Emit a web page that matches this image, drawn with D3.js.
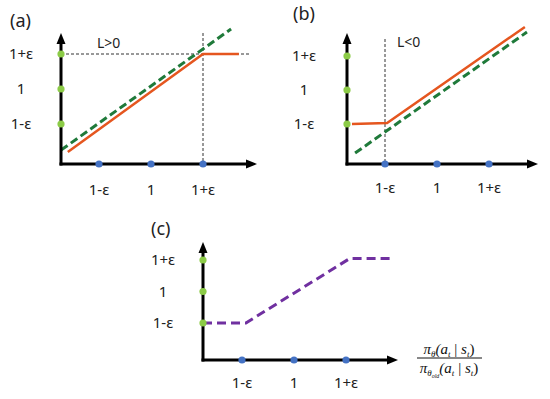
<!DOCTYPE html>
<html><head><meta charset="utf-8">
<script src="https://cdn.jsdelivr.net/npm/d3@7"></script>
<style>body{margin:0;background:#fff}svg{display:block}</style>
</head><body>
<script>
// ---- data ----
const tickValues = [0.8, 1.0, 1.2];
const tickLabels = ["1-ε", "1", "1+ε"];
const panelNames = ["(a)", "(b)", "(c)"];
const annotations = ["L>0", "L<0"];
const clipA = [[0.68, 0.64], [1.2, 1.2], [1.338, 1.2]];
const unclipA = [[0.654, 0.651], [1.308, 1.343]];
const clipB = [[0.673, 0.8], [0.808, 0.806], [1.338, 1.371]];
const unclipB = [[0.685, 0.629], [1.346, 1.341]];
const clipC = [[0.65, 0.8], [0.815, 0.8], [1.215, 1.21], [1.37, 1.21]];

// ---- layout ----
const W = 550, H = 399;
const svg = d3.select("body").append("svg").attr("width", W).attr("height", H);
const font = "'Noto Sans', 'DejaVu Sans', sans-serif";
const colOrange = "#E5561F", colGreen = "#1F7A3A", colPurple = "#7030A0";
const colDotG = "#8CCB47", colDotB = "#4472C4";

const panels = [
  {ox: 61, oy: 164, yTop: 33, xEnd: 257, xr: [99, 203], yr: [124, 54], labX: 21, labY: 195, name: [10, 27]},
  {ox: 347, oy: 164, yTop: 33, xEnd: 538, xr: [385, 489], yr: [124, 56], labX: 304, labY: 193, name: [293, 20]},
  {ox: 203, oy: 360, yTop: 242, xEnd: 398, xr: [242, 346], yr: [323, 260], labX: 163, labY: 388, name: [151, 235]}
];
panels.forEach(p => {
  p.x = d3.scaleLinear().domain([0.8, 1.2]).range(p.xr);
  p.y = d3.scaleLinear().domain([0.8, 1.2]).range(p.yr);
});

const line = p => d3.line().x(d => p.x(d[0])).y(d => p.y(d[1]));

function drawAxes(p) {
  const g = svg.append("g");
  g.append("line").attr("x1", p.ox).attr("y1", p.oy + 1.5).attr("x2", p.ox).attr("y2", p.yTop + 8)
    .attr("stroke", "#000").attr("stroke-width", 3);
  g.append("line").attr("x1", p.ox - 1.5).attr("y1", p.oy).attr("x2", p.xEnd - 8).attr("y2", p.oy)
    .attr("stroke", "#000").attr("stroke-width", 3);
  g.append("path").attr("d", `M${p.ox},${p.yTop} L${p.ox - 4.5},${p.yTop + 11} L${p.ox + 4.5},${p.yTop + 11} Z`).attr("fill", "#000");
  g.append("path").attr("d", `M${p.xEnd},${p.oy} L${p.xEnd - 11},${p.oy - 4.5} L${p.xEnd - 11},${p.oy + 4.5} Z`).attr("fill", "#000");
}
function drawTicks(p) {
  tickValues.forEach((v, i) => {
    svg.append("circle").attr("cx", p.x(v)).attr("cy", p.oy).attr("r", 3.6).attr("fill", colDotB);
    svg.append("circle").attr("cx", p.ox).attr("cy", p.y(v)).attr("r", 3.6).attr("fill", colDotG);
    svg.append("text").attr("x", p.x(v)).attr("y", p.labY).attr("text-anchor", "middle")
      .attr("font-family", font).attr("font-size", 15).attr("fill", "#222").text(tickLabels[i]);
    svg.append("text").attr("x", p.labX).attr("y", p.y(v) + 5).attr("text-anchor", "middle")
      .attr("font-family", font).attr("font-size", 15).attr("fill", "#222").text(tickLabels[i]);
  });
}
function panelName(p, t) {
  svg.append("text").attr("x", p.name[0]).attr("y", p.name[1]).attr("font-family", font)
    .attr("font-size", 18).attr("fill", "#222").text(t);
}

// ---- panel a ----
const A = panels[0];
svg.append("line").attr("x1", A.ox).attr("x2", 250).attr("y1", A.y(1.2)).attr("y2", A.y(1.2))
  .attr("stroke", "#333").attr("stroke-width", 1).attr("stroke-dasharray", "3,2");
svg.append("line").attr("x1", A.x(1.2)).attr("x2", A.x(1.2)).attr("y1", A.yTop).attr("y2", A.oy)
  .attr("stroke", "#333").attr("stroke-width", 1).attr("stroke-dasharray", "3,2");
svg.append("path").attr("d", line(A)(clipA)).attr("fill", "none").attr("stroke", colOrange).attr("stroke-width", 2.5);
svg.append("path").attr("d", line(A)(unclipA)).attr("fill", "none").attr("stroke", colGreen)
  .attr("stroke-width", 3).attr("stroke-dasharray", "8,4");
drawAxes(A); drawTicks(A); panelName(A, panelNames[0]);
svg.append("text").attr("x", 97).attr("y", 48).attr("font-family", font).attr("font-size", 14).attr("fill", "#222").text(annotations[0]);

// ---- panel b ----
const B = panels[1];
svg.append("line").attr("x1", B.x(0.8)).attr("x2", B.x(0.8)).attr("y1", 39).attr("y2", B.oy)
  .attr("stroke", "#333").attr("stroke-width", 1).attr("stroke-dasharray", "3,2");
svg.append("path").attr("d", line(B)(clipB)).attr("fill", "none").attr("stroke", colOrange).attr("stroke-width", 2.5);
svg.append("path").attr("d", line(B)(unclipB)).attr("fill", "none").attr("stroke", colGreen)
  .attr("stroke-width", 3).attr("stroke-dasharray", "8,4");
drawAxes(B); drawTicks(B); panelName(B, panelNames[1]);
svg.append("text").attr("x", 397).attr("y", 47).attr("font-family", font).attr("font-size", 14).attr("fill", "#222").text(annotations[1]);

// ---- panel c ----
const C = panels[2];
svg.append("path").attr("d", line(C)(clipC)).attr("fill", "none").attr("stroke", colPurple)
  .attr("stroke-width", 3).attr("stroke-dasharray", "9,5");
drawAxes(C); drawTicks(C); panelName(C, panelNames[2]);

// fraction label
const fx = 449, serif = "'Liberation Serif', 'DejaVu Serif', serif";
const num = svg.append("text").attr("x", fx).attr("y", 354).attr("text-anchor", "middle")
  .attr("font-family", serif).attr("font-style", "italic").attr("font-size", 15).attr("fill", "#111");
num.append("tspan").text("π");
num.append("tspan").attr("font-size", 9).attr("dy", 3).text("θ");
num.append("tspan").attr("dy", -3).text("(a");
num.append("tspan").attr("font-size", 9).attr("dy", 3).text("t");
num.append("tspan").attr("dy", -3).attr("font-style", "normal").text(" | ");
num.append("tspan").text("s");
num.append("tspan").attr("font-size", 9).attr("dy", 3).text("t");
num.append("tspan").attr("dy", -3).attr("font-style", "normal").text(")");
svg.append("line").attr("x1", 417).attr("x2", 482).attr("y1", 358).attr("y2", 358).attr("stroke", "#111").attr("stroke-width", 1);
const den = svg.append("text").attr("x", fx).attr("y", 373).attr("text-anchor", "middle")
  .attr("font-family", serif).attr("font-style", "italic").attr("font-size", 15).attr("fill", "#111");
den.append("tspan").text("π");
den.append("tspan").attr("font-size", 9).attr("dy", 3).text("θ");
den.append("tspan").attr("font-size", 6).attr("dy", 2).text("old");
den.append("tspan").attr("font-size", 15).attr("dy", -5).text("(a");
den.append("tspan").attr("font-size", 9).attr("dy", 3).text("t");
den.append("tspan").attr("dy", -3).attr("font-style", "normal").text(" | ");
den.append("tspan").text("s");
den.append("tspan").attr("font-size", 9).attr("dy", 3).text("t");
den.append("tspan").attr("dy", -3).attr("font-style", "normal").text(")");
</script>
</body></html>
